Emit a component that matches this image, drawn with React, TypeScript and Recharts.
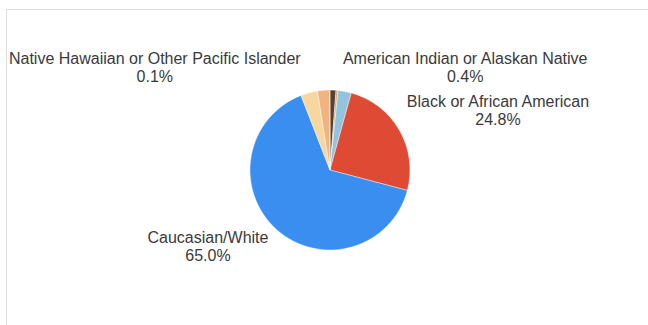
import React from "react";
import { PieChart, Pie, Cell } from "recharts";

const categories = [
  "Unspecified",
  "American Indian or Alaskan Native",
  "Asian",
  "Black or African American",
  "Caucasian/White",
  "Hispanic",
  "Multiracial",
  "Native Hawaiian or Other Pacific Islander",
];
const percents = [1.2, 0.4, 2.7, 24.8, 65.0, 3.4, 2.4, 0.1];
const labeled = [
  "American Indian or Alaskan Native",
  "Black or African American",
  "Caucasian/White",
  "Native Hawaiian or Other Pacific Islander",
];
const colors = ["#5a3f31", "#d6a66c", "#92c4de", "#de4a33", "#3a8ef0", "#f6d7a0", "#f2b37e", "#c98c55"];

// label placement relative to pie centre, in units of the outer radius
const labelLayout: Record<string, { dx: number; dy: number }> = {
  "American Indian or Alaskan Native": { dx: 1.69, dy: -1.4 },
  "Black or African American": { dx: 2.1, dy: -0.86 },
  "Caucasian/White": { dx: -1.525, dy: 0.84 },
  "Native Hawaiian or Other Pacific Islander": { dx: -2.19, dy: -1.4 },
};

const data = categories.map((name, i) => ({ name, value: percents[i] }));

const renderLabel = (props: any) => {
  const { cx, cy, outerRadius, name, value } = props;
  if (!labeled.includes(name)) return null;
  const l = labelLayout[name];
  const x = cx + l.dx * outerRadius;
  const y = cy + l.dy * outerRadius;
  const font = { fill: "#3a3a3a", fontSize: 16, fontFamily: "Liberation Sans, Arial, sans-serif" };
  return (
    <g>
      <text x={x} y={y} textAnchor="middle" dominantBaseline="central" {...font}>
        {name}
      </text>
      <text x={x} y={y + 18.5} textAnchor="middle" dominantBaseline="central" {...font}>
        {value.toFixed(1) + "%"}
      </text>
    </g>
  );
};

export default function App() {
  return (
    <div style={{ position: "absolute", left: 0, top: 0, width: 648, height: 325, overflow: "hidden", background: "#fff" }}>
      <div style={{ position: "absolute", left: 6, top: 9, width: 700, height: 400, border: "1px solid #dedede", boxSizing: "border-box" }} />
      <div style={{ position: "absolute", left: 0, top: 0 }}>
        <PieChart width={648} height={325} margin={{ top: 0, right: 0, bottom: 0, left: 0 }}>
          <Pie
            data={data}
            dataKey="value"
            nameKey="name"
            cx={330}
            cy={170}
            outerRadius={80}
            startAngle={90}
            endAngle={-270}
            stroke="#fff"
            strokeWidth={0.4}
            label={renderLabel}
            labelLine={false}
            isAnimationActive={false}
          >
            {data.map((d, i) => (
              <Cell key={d.name} fill={colors[i]} />
            ))}
          </Pie>
        </PieChart>
      </div>
    </div>
  );
}
